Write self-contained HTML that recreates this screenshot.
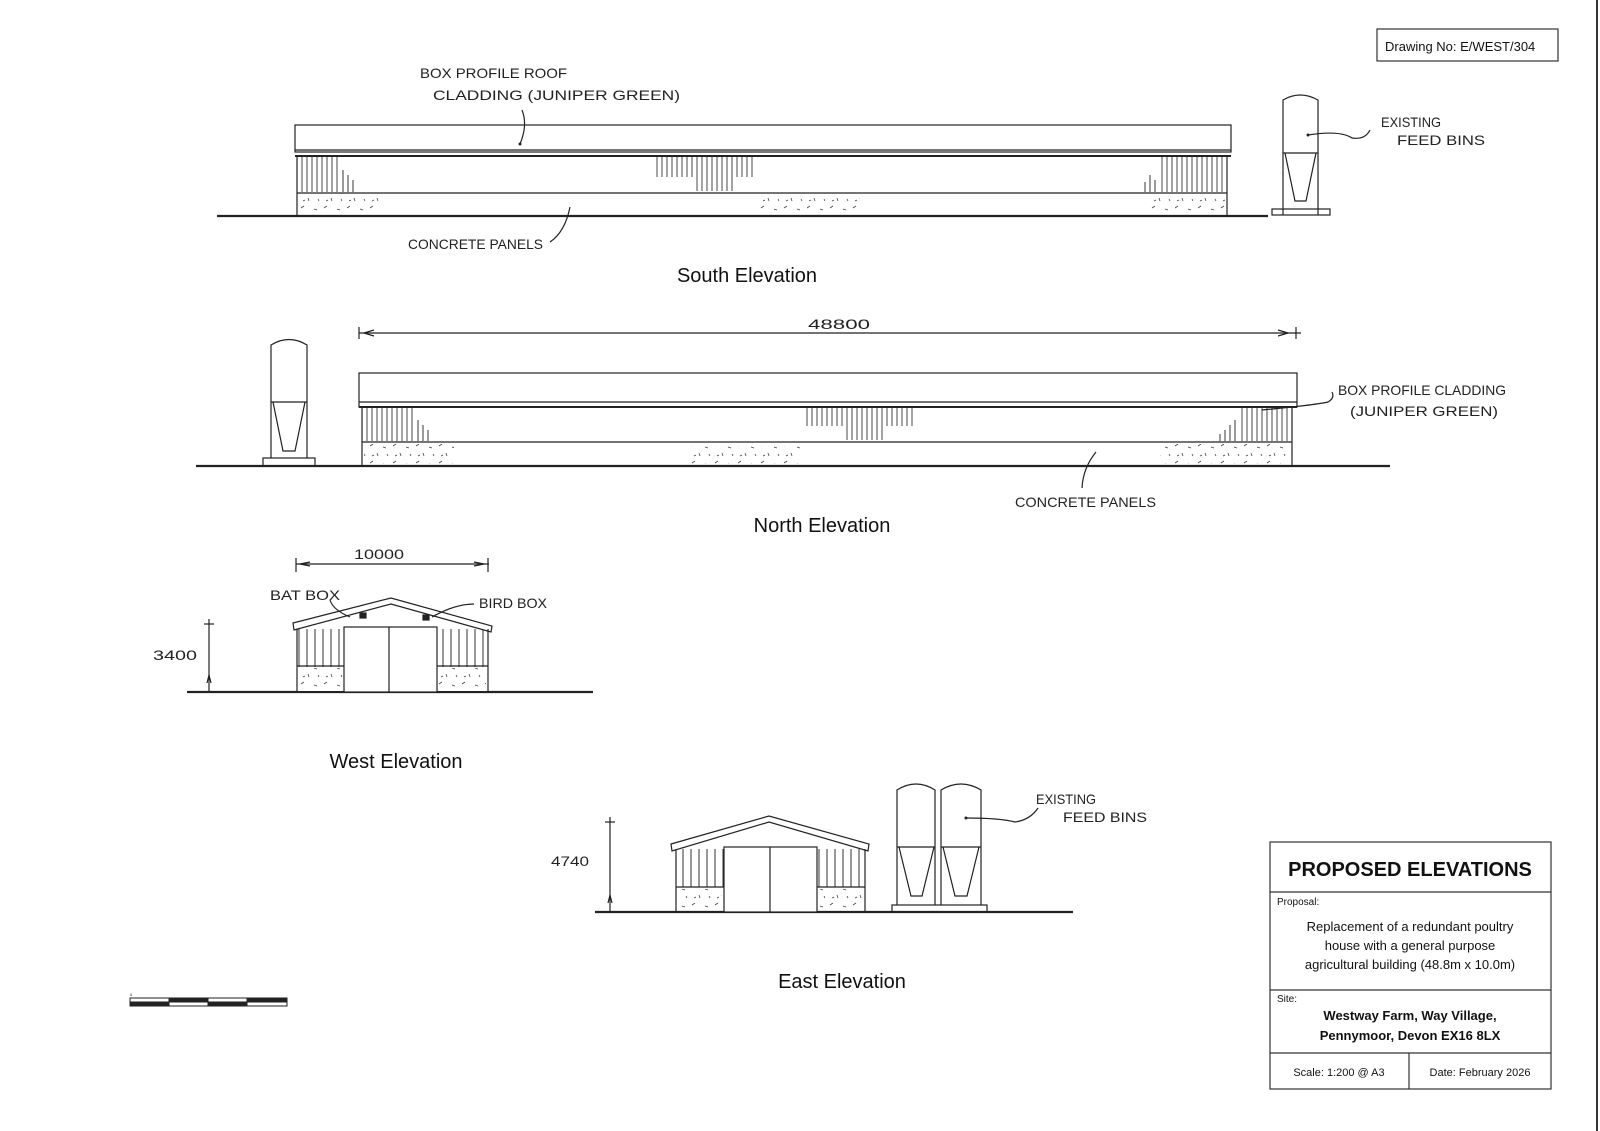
<!DOCTYPE html>
<html><head><meta charset="utf-8"><style>
html,body{margin:0;padding:0;background:#fff;}
svg{display:block;}
.t{font-family:"Liberation Sans",sans-serif;fill:#111;}
.h{font-family:"Liberation Sans",sans-serif;fill:#222;font-size:14px;font-weight:normal;}
</style></head><body>
<svg width="1600" height="1131" viewBox="0 0 1600 1131" xmlns="http://www.w3.org/2000/svg">
<defs>
<pattern id="vs" width="5" height="10" patternUnits="userSpaceOnUse"><line x1="2" y1="0" x2="2" y2="10" stroke="#333" stroke-width="0.9"/></pattern>
<pattern id="vw" width="8" height="10" patternUnits="userSpaceOnUse"><line x1="3" y1="0" x2="3" y2="10" stroke="#333" stroke-width="1"/></pattern>
<pattern id="sp" width="23" height="17" patternUnits="userSpaceOnUse"><path d="M2 4 l3 -2 M9 11 l1 3 M15 5 l3 1 M4 14 l2 -1 M19 12 l1 2" stroke="#444" stroke-width="0.8" fill="none"/></pattern>
</defs>
<rect width="1600" height="1131" fill="#fff"/>
<line x1="1597" y1="0" x2="1597" y2="1131" stroke="#333" stroke-width="2"/>

<rect x="1377" y="29" width="181" height="32" fill="none" stroke="#333" stroke-width="1.2"/>
<text x="1385" y="51" class="t" font-size="13">Drawing No:  E/WEST/304</text>

<!-- speckles -->
<rect x="299" y="195" width="80" height="19" fill="url(#sp)"/>
<rect x="760" y="197" width="100" height="17" fill="url(#sp)"/>
<rect x="1150" y="195" width="75" height="19" fill="url(#sp)"/>
<rect x="364" y="444" width="90" height="20" fill="url(#sp)"/>
<rect x="690" y="446" width="110" height="18" fill="url(#sp)"/>
<rect x="1160" y="444" width="130" height="20" fill="url(#sp)"/>
<rect x="299" y="668" width="44" height="22" fill="url(#sp)"/>
<rect x="438" y="668" width="48" height="22" fill="url(#sp)"/>
<rect x="678" y="889" width="44" height="21" fill="url(#sp)"/>
<rect x="818" y="889" width="45" height="21" fill="url(#sp)"/>

<g fill="none" stroke="#222" stroke-width="1.2">
<!-- SOUTH -->
<line x1="217" y1="216" x2="1268" y2="216" stroke-width="2.2"/>
<rect x="295" y="125" width="936" height="27"/>
<line x1="295" y1="150" x2="1231" y2="150"/>
<line x1="295" y1="156" x2="1231" y2="156" stroke-width="2"/>
<line x1="297" y1="156" x2="297" y2="216"/>
<line x1="1227" y1="156" x2="1227" y2="216"/>
<line x1="297" y1="193" x2="1227" y2="193"/>
<rect x="298" y="157" width="40" height="35" fill="url(#vs)" stroke="none"/>
<path d="M343 170 V192 M348 175 V192 M353 180 V192 M1155 180 V192 M1150 175 V192 M1145 182 V192" stroke-width="0.9"/>
<rect x="1160" y="157" width="66" height="35" fill="url(#vs)" stroke="none"/>
<rect x="655" y="157" width="100" height="20" fill="url(#vs)" stroke="none"/>
<rect x="695" y="177" width="40" height="14" fill="url(#vs)" stroke="none"/>
<path d="M1283 215 V100 Q1300 90 1318 100 V215"/>
<line x1="1283" y1="153" x2="1318" y2="153"/>
<path d="M1285 153 L1295 201 H1306 L1316 153"/>
<rect x="1272" y="209" width="58" height="6"/>
<path d="M522 110 Q528 125 520 144"/>
<path d="M570 207 Q565 232 550 242"/>
<path d="M1308 135 Q1340 130 1352 138 Q1365 140 1370 130"/>

<!-- NORTH -->
<line x1="359" y1="333" x2="1301" y2="333"/>
<line x1="359" y1="327" x2="359" y2="339"/>
<line x1="1296" y1="327" x2="1296" y2="339"/>
<path d="M364 333 l10 -3 M364 333 l10 3 M1288 333 l-10 -3 M1288 333 l-10 3"/>
<line x1="196" y1="466" x2="1390" y2="466" stroke-width="2.2"/>
<rect x="359" y="373" width="938" height="34"/>
<line x1="359" y1="402" x2="1297" y2="402"/>
<line x1="359" y1="407" x2="1297" y2="407" stroke-width="2"/>
<line x1="362" y1="407" x2="362" y2="466"/>
<line x1="1292" y1="407" x2="1292" y2="466"/>
<line x1="362" y1="442" x2="1292" y2="442"/>
<rect x="363" y="408" width="50" height="33" fill="url(#vs)" stroke="none"/>
<path d="M418 420 V441 M423 425 V441 M428 430 V441 M1235 420 V441 M1230 425 V441 M1225 430 V441 M1220 434 V441" stroke-width="0.9"/>
<rect x="1240" y="408" width="51" height="33" fill="url(#vs)" stroke="none"/>
<rect x="805" y="408" width="110" height="18" fill="url(#vs)" stroke="none"/>
<rect x="845" y="426" width="40" height="14" fill="url(#vs)" stroke="none"/>
<path d="M271 458 V345 Q289 334 307 345 V458"/>
<line x1="271" y1="402" x2="307" y2="402"/>
<path d="M273 402 L283 451 H295 L305 402"/>
<rect x="263" y="458" width="52" height="8"/>
<path d="M1262 410 Q1315 405 1328 402 Q1335 398 1332 392"/>
<path d="M1096 452 Q1083 468 1082 488"/>

<!-- WEST -->
<line x1="187" y1="692" x2="593" y2="692" stroke-width="2.2"/>
<line x1="296" y1="564" x2="489" y2="564"/>
<line x1="296" y1="558" x2="296" y2="572"/>
<line x1="488" y1="558" x2="488" y2="572"/>
<path d="M300 564 l10 -2 M300 564 l10 2 M484 564 l-10 -2 M484 564 l-10 2"/>
<path d="M293 623 L391 598 L492 626 L491 632 L391 604 L294 630 Z"/>
<rect x="297" y="629" width="191" height="63" fill="url(#vw)" stroke="none"/>
<rect x="297" y="666" width="47" height="26" fill="none" stroke="none"/>
<line x1="297" y1="629" x2="297" y2="692"/>
<line x1="488" y1="629" x2="488" y2="692"/>
<rect x="344" y="627" width="93" height="65" fill="#fff"/>
<line x1="389" y1="627" x2="389" y2="692"/>
<line x1="297" y1="666" x2="344" y2="666"/>
<line x1="437" y1="666" x2="488" y2="666"/>
<rect x="360" y="613" width="6" height="5" fill="#222"/>
<rect x="423" y="615" width="6" height="5" fill="#222"/>
<path d="M330 600 Q333 610 350 617"/>
<path d="M474 604 Q455 604 432 617"/>
<line x1="209" y1="619" x2="209" y2="692"/>
<line x1="204" y1="624" x2="214" y2="624"/>
<path d="M209 675 l-2 8 M209 675 l2 8"/>

<!-- EAST -->
<line x1="595" y1="912" x2="1073" y2="912" stroke-width="2.2"/>
<path d="M671 844 L769 816 L869 844 L868 851 L769 822 L672 851 Z"/>
<rect x="676" y="849" width="189" height="38" fill="url(#vw)" stroke="none"/>
<line x1="676" y1="849" x2="676" y2="912"/>
<line x1="865" y1="849" x2="865" y2="912"/>
<rect x="724" y="847" width="93" height="65" fill="#fff"/>
<line x1="770" y1="847" x2="770" y2="912"/>
<line x1="676" y1="887" x2="724" y2="887"/>
<line x1="817" y1="887" x2="865" y2="887"/>
<path d="M897 905 V790 Q916 778 935 790 V905"/>
<path d="M941 905 V790 Q961 778 981 790 V905"/>
<line x1="897" y1="847" x2="935" y2="847"/>
<line x1="941" y1="847" x2="981" y2="847"/>
<path d="M899 847 L911 896 H922 L934 847"/>
<path d="M943 847 L955 896 H967 L979 847"/>
<rect x="892" y="905" width="95" height="7"/>
<path d="M966 818 Q1000 818 1015 822 Q1030 820 1038 808"/>
<line x1="610" y1="817" x2="610" y2="912"/>
<line x1="605" y1="822" x2="615" y2="822"/>
<path d="M610 895 l-2 8 M610 895 l2 8"/>
</g>
<!-- west wall cladding bottom sections white over hatch -->
<rect x="298" y="667" width="45" height="24" fill="#fff"/>
<rect x="438" y="667" width="49" height="24" fill="#fff"/>
<rect x="299" y="668" width="44" height="22" fill="url(#sp)"/>
<rect x="438" y="668" width="48" height="22" fill="url(#sp)"/>
<circle cx="520" cy="144" r="1.5" fill="#222"/>
<circle cx="1308" cy="135" r="1.5" fill="#222"/>
<circle cx="966" cy="818" r="1.5" fill="#222"/>

<text x="420" y="78" class="h" textLength="147" lengthAdjust="spacingAndGlyphs">BOX PROFILE ROOF</text>
<text x="433" y="100" class="h" textLength="247" lengthAdjust="spacingAndGlyphs">CLADDING (JUNIPER GREEN)</text>
<text x="408" y="249" class="h" textLength="135" lengthAdjust="spacingAndGlyphs">CONCRETE PANELS</text>
<text x="1381" y="127" class="h" textLength="60" lengthAdjust="spacingAndGlyphs">EXISTING</text>
<text x="1397" y="145" class="h" textLength="88" lengthAdjust="spacingAndGlyphs">FEED BINS</text>
<text x="808" y="329" class="h" textLength="62" lengthAdjust="spacingAndGlyphs">48800</text>
<text x="1338" y="395" class="h" textLength="168" lengthAdjust="spacingAndGlyphs">BOX PROFILE CLADDING</text>
<text x="1350" y="416" class="h" textLength="148" lengthAdjust="spacingAndGlyphs">(JUNIPER GREEN)</text>
<text x="1015" y="507" class="h" textLength="141" lengthAdjust="spacingAndGlyphs">CONCRETE PANELS</text>
<text x="354" y="559" class="h" textLength="50" lengthAdjust="spacingAndGlyphs">10000</text>
<text x="270" y="600" class="h" textLength="70" lengthAdjust="spacingAndGlyphs">BAT BOX</text>
<text x="479" y="608" class="h" textLength="68" lengthAdjust="spacingAndGlyphs">BIRD BOX</text>
<text x="153" y="660" class="h" font-size="16" textLength="44" lengthAdjust="spacingAndGlyphs">3400</text>
<text x="551" y="866" class="h" font-size="16" textLength="38" lengthAdjust="spacingAndGlyphs">4740</text>
<text x="1036" y="804" class="h" textLength="60" lengthAdjust="spacingAndGlyphs">EXISTING</text>
<text x="1063" y="822" class="h" textLength="84" lengthAdjust="spacingAndGlyphs">FEED BINS</text>

<text x="747" y="282" class="t" font-size="20" text-anchor="middle">South Elevation</text>
<text x="822" y="532" class="t" font-size="20" text-anchor="middle">North Elevation</text>
<text x="396" y="768" class="t" font-size="20" text-anchor="middle">West Elevation</text>
<text x="842" y="988" class="t" font-size="20" text-anchor="middle">East Elevation</text>

<g stroke="#222" stroke-width="1">
<rect x="130" y="998" width="157" height="8" fill="#fff"/>
<rect x="169" y="998" width="39" height="4" fill="#222"/>
<rect x="247" y="998" width="40" height="4" fill="#222"/>
<rect x="130" y="1002" width="39" height="4" fill="#222"/>
<rect x="208" y="1002" width="39" height="4" fill="#222"/>
</g>
<text x="130" y="996" class="t" font-size="4">0</text>

<g fill="none" stroke="#333" stroke-width="1.2">
<rect x="1270" y="842" width="281" height="247"/>
<line x1="1270" y1="892" x2="1551" y2="892"/>
<line x1="1270" y1="990" x2="1551" y2="990"/>
<line x1="1270" y1="1053" x2="1551" y2="1053"/>
<line x1="1409" y1="1053" x2="1409" y2="1089"/>
</g>
<text x="1410" y="876" class="t" font-size="20" font-weight="bold" text-anchor="middle">PROPOSED ELEVATIONS</text>
<text x="1277" y="905" class="t" font-size="10">Proposal:</text>
<text x="1410" y="931" class="t" font-size="13" text-anchor="middle">Replacement of a redundant poultry</text>
<text x="1410" y="950" class="t" font-size="13" text-anchor="middle">house with a general purpose</text>
<text x="1410" y="969" class="t" font-size="13" text-anchor="middle">agricultural building (48.8m x 10.0m)</text>
<text x="1277" y="1002" class="t" font-size="10">Site:</text>
<text x="1410" y="1020" class="t" font-size="13" font-weight="bold" text-anchor="middle">Westway Farm, Way Village,</text>
<text x="1410" y="1040" class="t" font-size="13" font-weight="bold" text-anchor="middle">Pennymoor, Devon EX16 8LX</text>
<text x="1339" y="1076" class="t" font-size="11" text-anchor="middle">Scale:  1:200 @ A3</text>
<text x="1480" y="1076" class="t" font-size="11" text-anchor="middle">Date: February 2026</text>
</svg>
</body></html>
